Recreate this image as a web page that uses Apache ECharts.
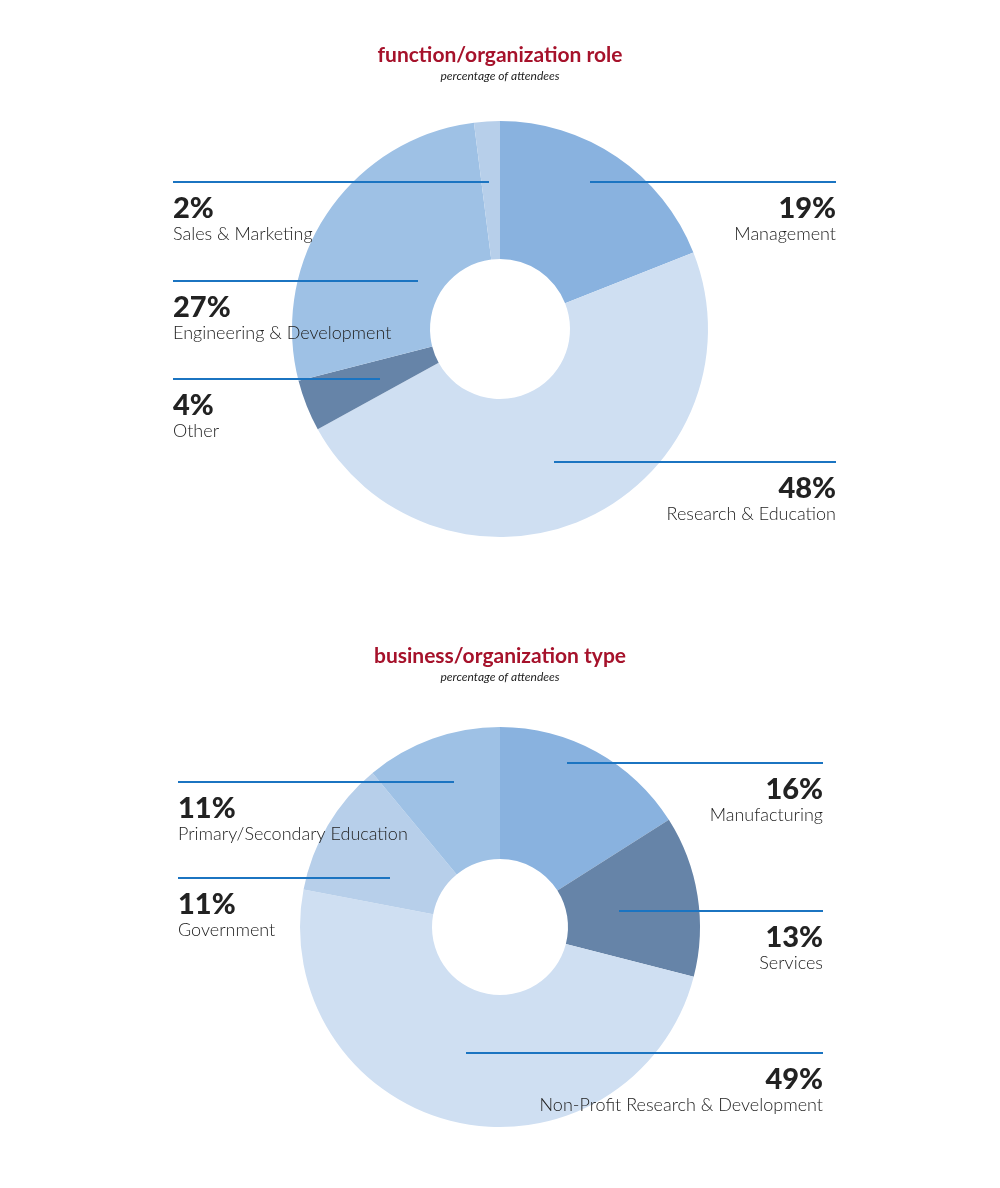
<!DOCTYPE html>
<html><head><meta charset="utf-8">
<script src="https://cdn.jsdelivr.net/npm/echarts@6/dist/echarts.min.js"></script>
<style>html,body{margin:0;background:#fff}#c{width:1000px;height:1188px}</style>
</head><body><div id="c"></div>
<script>
// function/organization role
const roleNames = ["Management", "Research & Education", "Other", "Engineering & Development", "Sales & Marketing"];
const roleValues = [19, 48, 4, 27, 2];
const roleColors = ["#89b2df", "#cfdff2", "#6684a8", "#9ec1e5", "#b7cfea"];
// business/organization type
const typeNames = ["Manufacturing", "Services", "Non-Profit Research & Development", "Government", "Primary/Secondary Education"];
const typeValues = [16, 13, 49, 11, 11];
const typeColors = ["#89b2df", "#6684a8", "#cfdff2", "#b7cfea", "#9ec1e5"];

const chart = echarts.init(document.getElementById("c"));

// label layout: [index, lineY, x1, x2, side]
const roleLabels = [[4, 182, 173, 489, "l"], [3, 281, 173, 418, "l"], [2, 379, 173, 380, "l"], [0, 182, 590, 836, "r"], [1, 462, 554, 836, "r"]];
const typeLabels = [[4, 782, 178, 454, "l"], [3, 878, 178, 390, "l"], [0, 763, 567, 823, "r"], [1, 911, 619, 823, "r"], [2, 1053, 466, 823, "r"]];

function labelGraphics(defs, names, values) {
  const g = [];
  defs.forEach(([i, y, x1, x2, side]) => {
    g.push({ type: "line", z: 10, shape: { x1, y1: y, x2, y2: y }, style: { stroke: "#1b74c1", lineWidth: 2 } });
    const x = side === "l" ? x1 : x2;
    const align = side === "l" ? "left" : "right";
    g.push({ type: "text", z: 10, x, y: y + 12, style: { text: values[i] + "%", align, fill: "#222", font: "900 29px Lato" } });
    g.push({ type: "text", z: 10, x, y: y + 43, style: { text: names[i], align, fill: "#222", font: "300 18px Lato" } });
  });
  return g;
}

function pie(names, values, colors, center, radius) {
  return {
    type: "pie", center, radius, startAngle: 90, clockwise: true, silent: true,
    label: { show: false }, labelLine: { show: false },
    data: names.map((n, i) => ({ name: n, value: values[i], itemStyle: { color: colors[i] } }))
  };
}

chart.setOption({
  animation: false,
  title: [
    { text: "function/organization role", subtext: "percentage of attendees", left: "center", top: 40, itemGap: 4,
      textStyle: { color: "#a6122b", fontFamily: "Lato", fontWeight: "bold", fontSize: 21 },
      subtextStyle: { color: "#222", fontFamily: "Lato", fontStyle: "italic", fontSize: 12 } },
    { text: "business/organization type", subtext: "percentage of attendees", left: "center", top: 641, itemGap: 4,
      textStyle: { color: "#a6122b", fontFamily: "Lato", fontWeight: "bold", fontSize: 21 },
      subtextStyle: { color: "#222", fontFamily: "Lato", fontStyle: "italic", fontSize: 12 } }
  ],
  series: [
    pie(roleNames, roleValues, roleColors, [500, 329], [70, 208]),
    pie(typeNames, typeValues, typeColors, [500, 927], [68, 200])
  ],
  graphic: labelGraphics(roleLabels, roleNames, roleValues).concat(labelGraphics(typeLabels, typeNames, typeValues))
});
</script></body></html>
